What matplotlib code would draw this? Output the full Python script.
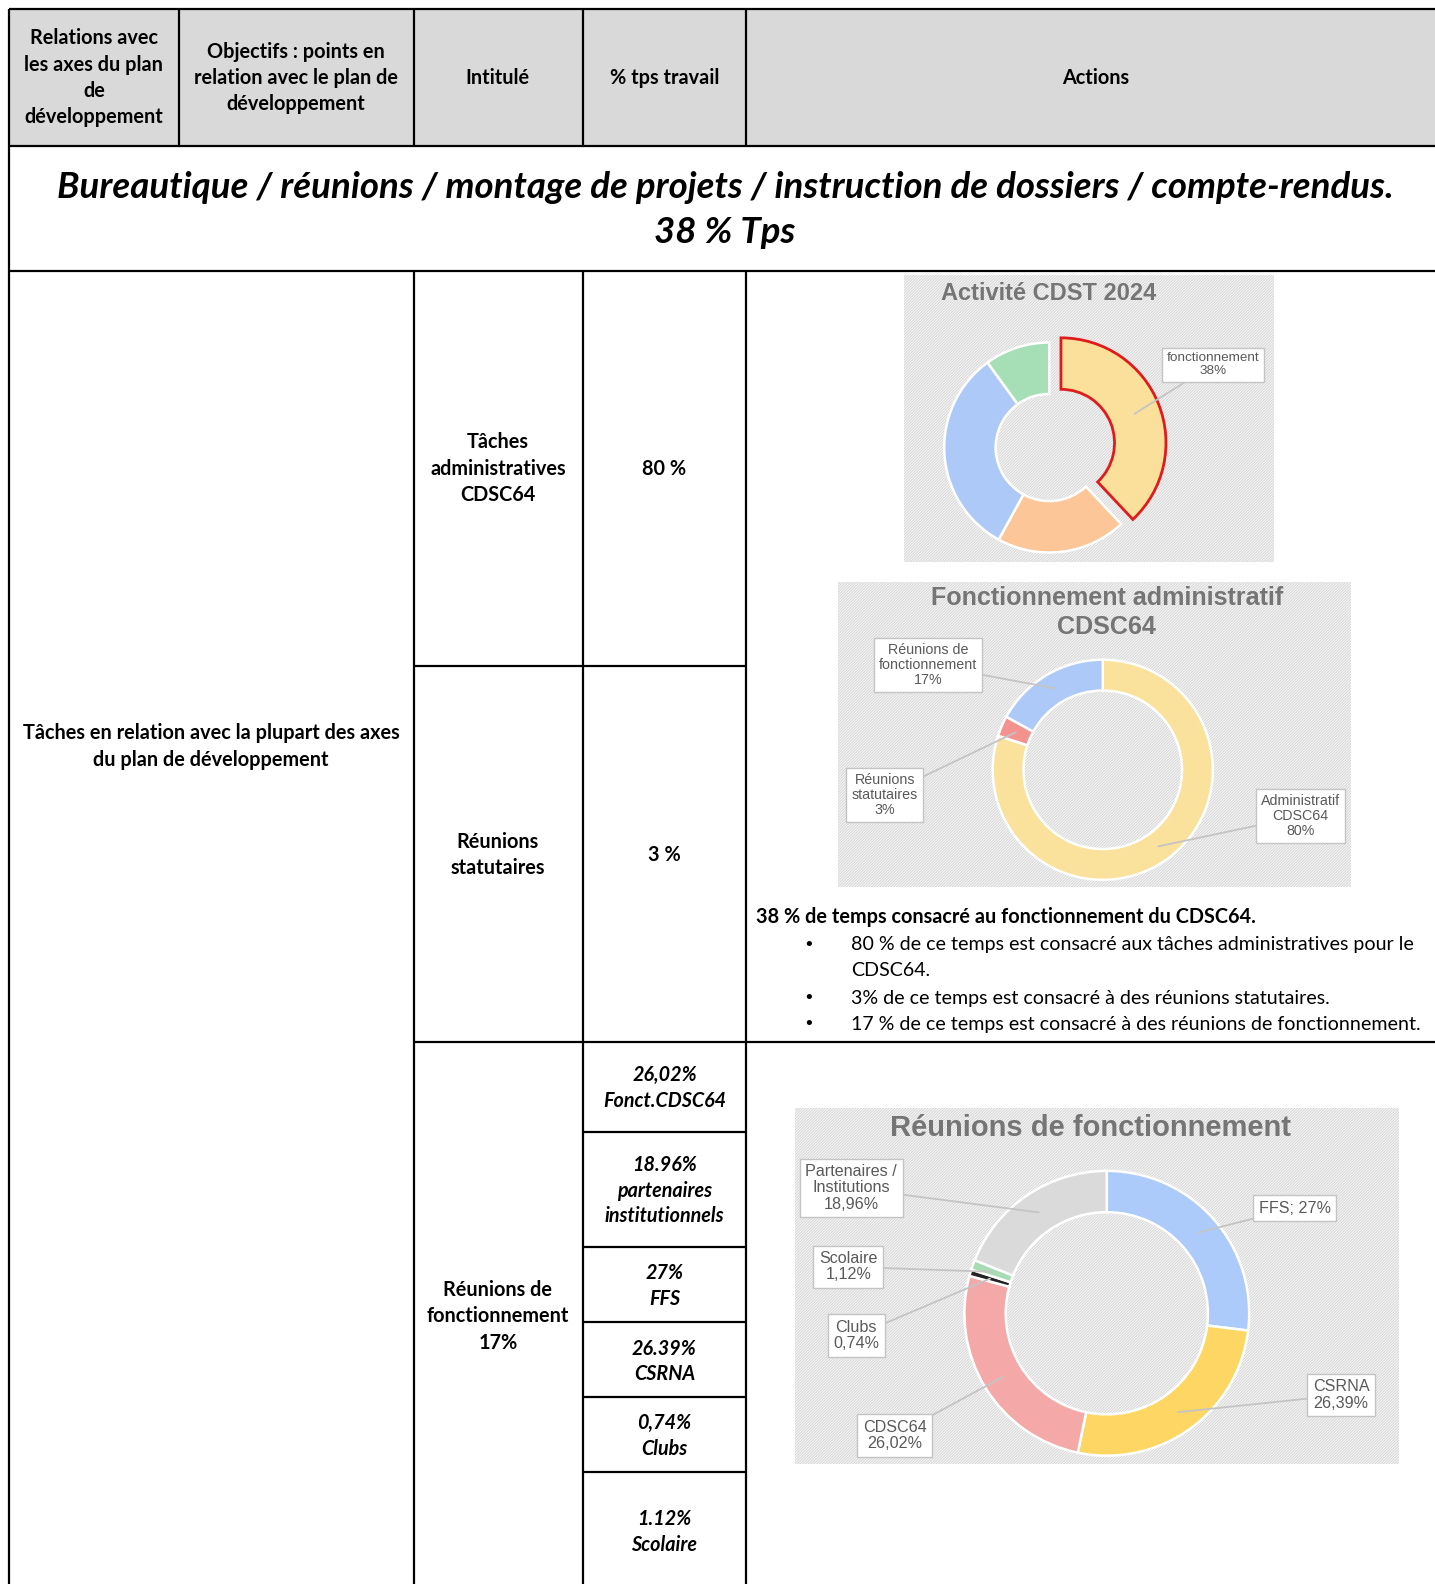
import matplotlib
matplotlib.use("Agg")
import matplotlib.pyplot as plt
from matplotlib.patches import Rectangle
import numpy as np

# ---------------- data ----------------
header_col1 = ["Relations avec", "les axes du plan", "de", "développement"]
header_col2 = ["Objectifs : points en", "relation avec le plan de", "développement"]
header_col3 = "Intitulé"
header_col4 = "% tps travail"
header_col5 = "Actions"

title_lines = ["Bureautique / réunions / montage de projets / instruction de dossiers / compte-rendus.",
               "38 % Tps"]

axes_text = ["Tâches en relation avec la plupart des axes", "du plan de développement"]

intitule_rows = [["Tâches", "administratives", "CDSC64"],
                 ["Réunions", "statutaires"],
                 ["Réunions de", "fonctionnement", "17%"]]
pct_rows = ["80 %", "3 %"]

sub_cells = [["26,02%", "Fonct.CDSC64"],
             ["18.96%", "partenaires", "institutionnels"],
             ["27%", "FFS"],
             ["26.39%", "CSRNA"],
             ["0,74%", "Clubs"],
             ["1.12%", "Scolaire"]]

actions_head = "38 % de temps consacré au fonctionnement du CDSC64."
actions_bullets = [["80 % de ce temps est consacré aux tâches administratives pour le", "CDSC64."],
                   ["3% de ce temps est consacré à des réunions statutaires."],
                   ["17 % de ce temps est consacré à des réunions de fonctionnement."]]

# Chart 1 : Activité CDST 2024
act_title = "Activité CDST 2024"
act_values = [38, 20, 32, 10]
act_colors = ["#fbe09b", "#fcc699", "#adc9f7", "#a6dfb6"]
act_labels = ["fonctionnement\n38%", None, None, None]

# Chart 2 : Fonctionnement administratif CDSC64
adm_title = ["Fonctionnement administratif", "CDSC64"]
adm_values = [80, 3, 17]
adm_colors = ["#fbe29c", "#f3928f", "#adc9f7"]
adm_labels = ["Administratif\nCDSC64\n80%", "Réunions\nstatutaires\n3%", "Réunions de\nfonctionnement\n17%"]

# Chart 3 : Réunions de fonctionnement
reu_title = "Réunions de fonctionnement"
reu_values = [27, 26.39, 26.02, 0.74, 1.12, 18.96]
reu_colors = ["#adcbfa", "#fdd663", "#f4a9a8", "#222222", "#a6dbb4", "#dadada"]
reu_labels = ["FFS; 27%", "CSRNA\n26,39%", "CDSC64\n26,02%", "Clubs\n0,74%", "Scolaire\n1,12%",
              "Partenaires /\nInstitutions\n18,96%"]

# ---------------- figure ----------------
W, H = 1421.0, 1568.0
fig = plt.figure(figsize=(14.35, 15.84), dpi=100)
main = fig.add_axes([0, 0, 1, 1])
main.set_xlim(0, W)
main.set_ylim(H, 0)
main.axis("off")

TF = ["Lato", "DejaVu Sans"]
CF = ["Liberation Sans", "DejaVu Sans"]
plt.rcParams["hatch.linewidth"] = 0.6

def hline(y, x0, x1, lw=1.6):
    main.plot([x0, x1], [y, y], color="black", lw=lw, solid_capstyle="butt", zorder=3)

def vline(x, y0, y1, lw=1.6):
    main.plot([x, x], [y0, y1], color="black", lw=lw, solid_capstyle="butt", zorder=3)

def lines(x, y0, pitch, texts, size=14.3, weight="bold", style="normal", ha="center", color="black", family=TF):
    for i, t in enumerate(texts):
        main.text(x, y0 + i * pitch, t, ha=ha, va="center", fontsize=size, fontweight=weight,
                  fontstyle=style, color=color, family=family, zorder=4)

# header background
main.add_patch(Rectangle((9, 9), W - 9, 136, facecolor="#d9d9d9", edgecolor="none", zorder=1))

# grid
for y in (9, 145, 268):
    hline(y, 9, W)
hline(659, 410, 739)
hline(1031, 410, W)
for y in (1121, 1234, 1309, 1383, 1457):
    hline(y, 577, 739)
vline(9, 9, H)
vline(177, 9, 145)
for x in (410, 577, 739):
    vline(x, 9, 145)
    vline(x, 268, H)

# header texts
lines(93, 38, 26, header_col1)
lines(293, 51, 26, header_col2)
lines(493, 77, 26, [header_col3])
lines(658, 77, 26, [header_col4])
lines(1085, 77, 26, [header_col5])

# title row
lines(718, 186, 44, title_lines, size=26.4, style="italic")

# body
lines(209, 726, 26, axes_text)
lines(493, 438, 26, intitule_rows[0])
lines(493, 833, 26, intitule_rows[1])
lines(493, 1277, 26, intitule_rows[2])
lines(658, 464, 26, [pct_rows[0]])
lines(658, 846, 26, [pct_rows[1]])

sub_y = [1064, 1153, 1260, 1335, 1409, 1504]
for y0, cell in zip(sub_y, sub_cells):
    lines(658, y0, 25.5, cell, style="italic", size=14.2)

# actions text
lines(749, 908, 26, [actions_head], ha="left")
by = 935
for b in actions_bullets:
    main.text(801, by, "•", ha="center", va="center", fontsize=13, color="black", family=["DejaVu Sans"], zorder=4)
    lines(843, by, 25.5, b, weight="normal", ha="left", size=14.1)
    by += 26 * len(b) + (1 if len(b) > 1 else 0)

# chart backgrounds (hatched)
for (x, y, w, h) in [(895, 272, 367, 284), (830, 576, 508, 302), (787, 1097, 598, 352)]:
    main.add_patch(Rectangle((x, y), w, h, facecolor="#f6f6f6", edgecolor="#d2d2d2",
                             hatch="/" * 12, linewidth=0, zorder=1))

# chart titles
lines(1038, 291, 29, [act_title], size=17, color="#757575", family=CF)
lines(1096, 592, 29, adm_title, size=18.1, color="#757575", family=CF)
lines(1080, 1117, 29, [reu_title], size=21, color="#757575", family=CF)


def donut(cx, cy, R, ring, values, colors, labels, label_pos, fsize, explode=None, pad=1.4):
    h = R * pad
    ax = fig.add_axes([(cx - h) / W, 1 - (cy + h) / H, 2 * h / W, 2 * h / H])
    ax.patch.set_alpha(0)
    wedges, _ = ax.pie(values, colors=colors, startangle=90, counterclock=False, radius=1,
                       explode=explode, wedgeprops=dict(width=ring, edgecolor="white", linewidth=1.8))
    ax.set_xlim(-pad, pad)
    ax.set_ylim(-pad, pad)
    ax.set_aspect("equal")
    ax.axis("off")
    total = float(sum(values))
    cum = np.cumsum([0] + list(values))[:-1]
    rm = 1 - ring / 2
    for i, (lab, pos) in enumerate(zip(labels, label_pos)):
        if lab is None:
            continue
        th = np.deg2rad(360 * (cum[i] + values[i] / 2) / total)
        ex = explode[i] if explode is not None else 0
        r = rm + ex
        pt = (r * np.sin(th), r * np.cos(th))
        ax.annotate(lab, xy=pt, xytext=pos, textcoords=main.transData, ha="center", va="center",
                    fontsize=fsize, color="#595959", family=CF, annotation_clip=False, linespacing=1.1,
                    bbox=dict(boxstyle="square,pad=0.35", fc="white", ec="#c4c4c4", lw=1),
                    arrowprops=dict(arrowstyle="-", color="#c4c4c4", lw=1.3, shrinkA=0, shrinkB=0))
    return ax, wedges

# chart 1
ax1, w1 = donut(1039, 443, 104, 0.49, act_values, act_colors, act_labels,
                [(1201, 361), None, None, None], 9.7, explode=[0.12, 0, 0, 0])
w1[0].set_edgecolor("#e01b1b")
w1[0].set_linewidth(2)

# chart 2
donut(1092, 762, 109, 0.28, adm_values, adm_colors, adm_labels,
      [(1288, 808), (876, 787), (919, 658)], 10.3)

# chart 3
donut(1096, 1300, 141, 0.29, reu_values, reu_colors, reu_labels,
      [(1282, 1196), (1328, 1381), (886, 1421), (848, 1322), (840, 1254), (843, 1176)], 11.6)

fig.savefig("out.png", dpi=100)
